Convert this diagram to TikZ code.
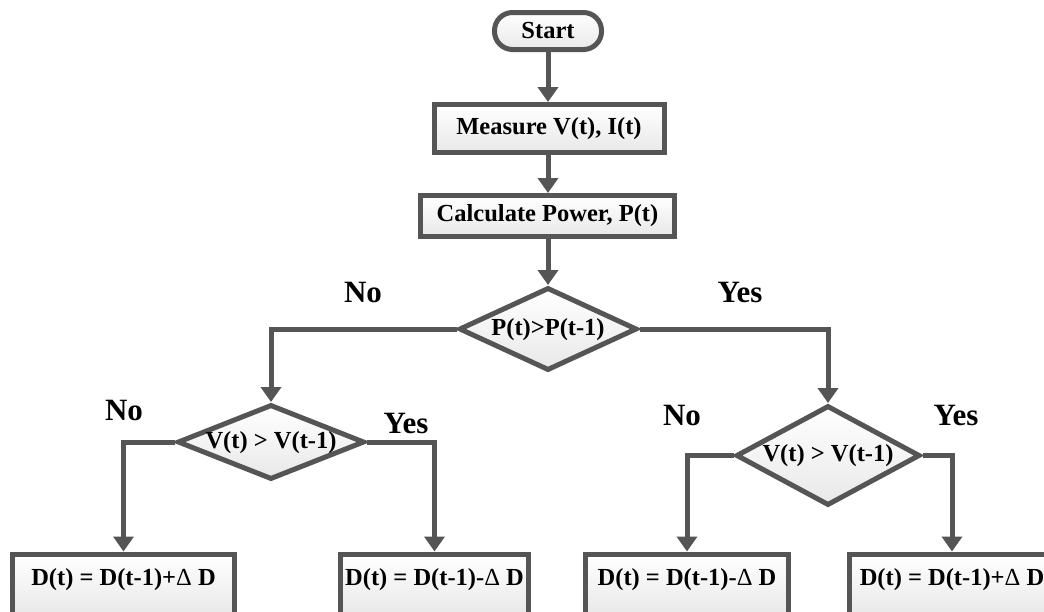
\documentclass[tikz,border=0pt]{standalone}
\usepackage{fontspec}
\setmainfont{Liberation Serif}
\usetikzlibrary{arrows.meta,shapes.geometric}
\definecolor{lc}{RGB}{85,85,85}
\begin{document}
\begin{tikzpicture}[x=1pt,y=-1pt,
  every node/.style={font=\bfseries\fontsize{24.5pt}{28pt}\selectfont, text=black},
  box/.style={draw=lc, line width=5pt, top color=white, bottom color=black!9, inner sep=0pt},
  termbox/.style={box, rounded corners=18pt},
  dec/.style={box, diamond, text height=17pt, text depth=5pt},
  outbox/.style={box, text height=31pt, text depth=31pt},
  arr/.style={draw=lc, line width=5pt, -{Triangle[length=15pt,width=20pt]}},
  lab/.style={font=\bfseries\fontsize{31pt}{34pt}\selectfont}]
\useasboundingbox (0,0) rectangle (1044,611);

\node[termbox, minimum width=107pt, minimum height=37pt] (start) at (548,31) {Start};
\node[box, minimum width=230pt, minimum height=48pt] (meas) at (549,128.5) {Measure V(t), I(t)};
\node[box, minimum width=254pt, minimum height=41pt] (calc) at (547.5,216) {Calculate Power, P(t)};
\node[dec, shape aspect=2.14, minimum width=178pt, minimum height=83pt] (d1) at (548,329) {P(t)>P(t-1)};
\node[dec, shape aspect=2.5, minimum width=187pt, minimum height=75pt] (d2) at (271,442) {V(t) > V(t-1)};
\node[dec, shape aspect=1.84, minimum width=184pt, minimum height=100pt] (d3) at (828,455.5) {V(t) > V(t-1)};

\node[outbox, minimum width=222pt] (b1) at (123.5,585) {D(t) = D(t-1)+{\mdseries Δ} D};
\node[outbox, minimum width=188pt] (b2) at (434.5,585) {D(t) = D(t-1)-{\mdseries Δ} D};
\node[outbox, minimum width=203pt] (b3) at (687,585) {D(t) = D(t-1)-{\mdseries Δ} D};
\node[outbox, minimum width=205pt] (b4) at (952,585) {D(t) = D(t-1)+{\mdseries Δ} D};

\draw[arr] (start.south) -- (start.south |- meas.north);
\draw[arr] (start.south |- meas.south) -- (start.south |- calc.north);
\draw[arr] (start.south |- calc.south) -- (d1.north);
\draw[arr] (d1.west) -| (d2.north);
\draw[arr] (d1.east) -| (d3.north);
\draw[arr] (d2.west) -| (b1.north);
\draw[arr] (d2.east) -| (b2.north);
\draw[arr] (d3.west) -| (b3.north);
\draw[arr] (d3.east) -| (b4.north);

\node[lab] (no1) at (363,292) {No};
\node[lab] (yes1) at (740,292) {Yes};
\node[lab] (no2) at (124,410) {No};
\node[lab] (yes2) at (406,423) {Yes};
\node[lab] (no3) at (682,415) {No};
\node[lab] (yes3) at (956,415) {Yes};
\end{tikzpicture}
\end{document}
